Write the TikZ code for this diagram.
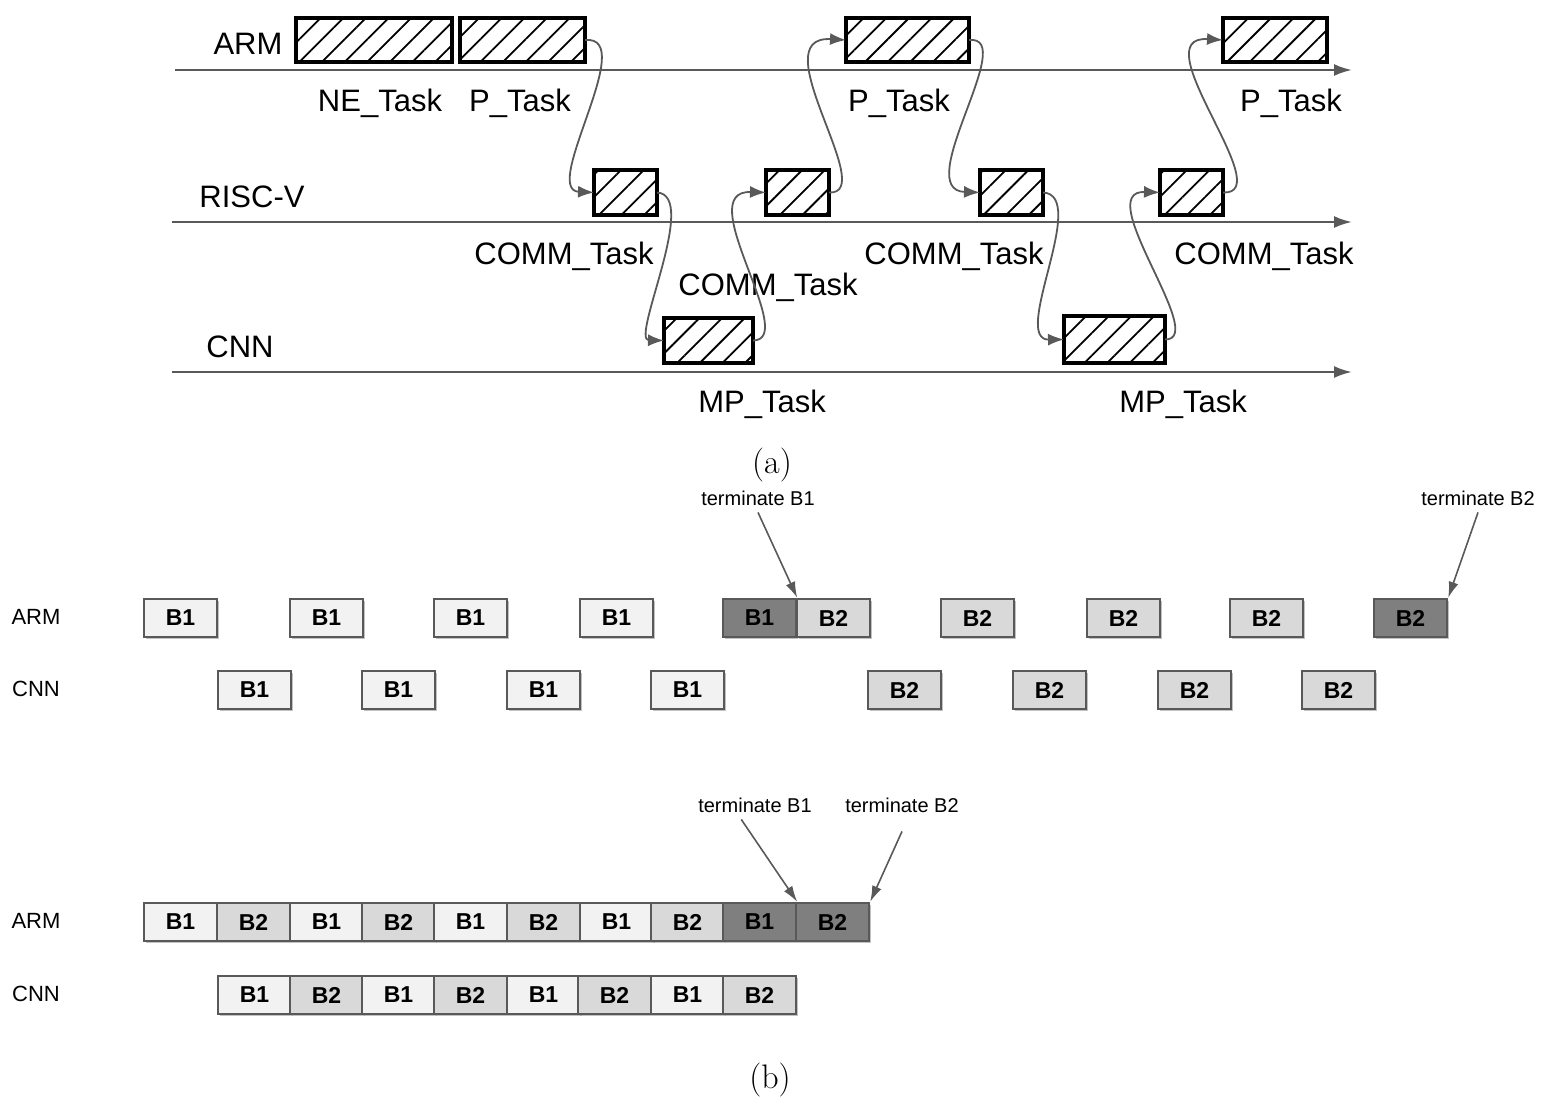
\documentclass[tikz,border=0pt]{standalone}
\usepackage{fontspec}
\setmainfont{Liberation Sans}
\newfontfamily\serifm{Latin Modern Roman}
\usetikzlibrary{patterns.meta,arrows.meta,shadows}
\definecolor{lg}{HTML}{F2F2F2}
\definecolor{mg}{HTML}{D9D9D9}
\definecolor{dg}{HTML}{7F7F7F}
\definecolor{ln}{HTML}{595959}
\tikzset{
 axis/.style={draw=ln,line width=1.2pt,-{Latex[length=9pt,width=6pt]}},
 hatch/.style={draw=black,line width=2.2pt,inner sep=0pt,pattern={Lines[angle=45,distance=8pt,line width=0.9pt]}},
 lab/.style={font=\fontsize{15.5}{17}\selectfont},
 flow/.style={draw=ln,line width=0.9pt,-{Latex[length=8pt,width=6pt]}},
 bx/.style={draw=ln,line width=1.2pt,minimum width=36.5pt,minimum height=19pt,inner sep=0pt,font=\bfseries\fontsize{11.5}{12}\selectfont,drop shadow={shadow xshift=1pt,shadow yshift=-1pt,fill=black!40,opacity=0.6}},
 w/.style={bx,fill=lg}, g/.style={bx,fill=mg}, d/.style={bx,fill=dg},
 rl/.style={font=\fontsize{11}{12}\selectfont},
 tl/.style={font=\fontsize{10}{12}\selectfont},
 tarr/.style={draw=ln,line width=0.8pt,-{Latex[length=8pt,width=5pt]}}
}
\newcommand{\hb}[5]{\path[hatch] (#2,#3) rectangle (#4,#5); \coordinate (#1w) at (#2,{(#3+#5)/2}); \coordinate (#1e) at (#4,{(#3+#5)/2});}
\begin{document}
\begin{tikzpicture}[x=0.5pt,y=-0.5pt]
\useasboundingbox (0,0) rectangle (1553,1108);
% axes
\coordinate (a1) at (175,70); \coordinate (a1e) at (1352,70);
\coordinate (a2) at (172,222); \coordinate (a2e) at (1352,222);
\coordinate (a3) at (172,372); \coordinate (a3e) at (1352,372);
\draw[axis] (a1) -- (a1e); \draw[axis] (a2) -- (a2e); \draw[axis] (a3) -- (a3e);
\node[lab] (tarm) at (248,44) {ARM};
\node[lab] (trv) at (252,197) {RISC-V};
\node[lab] (tcnn) at (240,347) {CNN};
\hb{ne}{296}{18}{452}{62}
\hb{p1}{460}{18}{585}{62}
\hb{p2}{846}{18}{969}{62}
\hb{p3}{1223}{18}{1327}{62}
\hb{r1}{594}{170}{657}{215}
\hb{r2}{766}{170}{829}{215}
\hb{r3}{980}{170}{1043}{215}
\hb{r4}{1160}{170}{1223}{215}
\hb{c1}{664}{318}{753}{363}
\hb{c2}{1064}{316}{1165}{363}
\node[lab] (l1) at (380,103) {NE\_Task};
\node[lab] (l2) at (520,103) {P\_Task};
\node[lab] (l3) at (899,103) {P\_Task};
\node[lab] (l4) at (1291,103) {P\_Task};
\node[lab] (l5) at (564,256) {COMM\_Task};
\node[lab] (l6) at (768,287) {COMM\_Task};
\node[lab] (l7) at (954,256) {COMM\_Task};
\node[lab] (l8) at (1264,256) {COMM\_Task};
\node[lab] (l9) at (762,404) {MP\_Task};
\node[lab] (l10) at (1183,404) {MP\_Task};
\draw[flow] (p1e) .. controls (640,35) and (540,190) .. (r1w);
\draw[flow] (r1e) .. controls (700,195) and (630,340) .. (c1w);
\draw[flow] (c1e) .. controls (800,340) and (690,190) .. (r2w);
\draw[flow] (r2e) .. controls (880,195) and (760,35) .. (p2w);
\draw[flow] (p2e) .. controls (1020,35) and (910,190) .. (r3w);
\draw[flow] (r3e) .. controls (1090,195) and (1010,340) .. (c2w);
\draw[flow] (c2e) .. controls (1210,340) and (1090,190) .. (r4w);
\draw[flow] (r4e) .. controls (1280,195) and (1140,35) .. (p3w);
\node[font=\serifm\fontsize{17}{19}\selectfont] (ca) at (772,465) {(a)};
% part b
\node[rl] (ra1) at (36,617) {ARM};
\node[rl] (rc1) at (36,689) {CNN};
\foreach \x/\s/\t [count=\i] in {144/w/B1,290/w/B1,434/w/B1,580/w/B1,723/d/B1,797/g/B2,941/g/B2,1087/g/B2,1230/g/B2,1374/d/B2}
  \node[\s] (ua\i) at (\x+36.5,618) {\t};
\foreach \x/\s/\t [count=\i] in {218/w/B1,362/w/B1,507/w/B1,651/w/B1,868/g/B2,1013/g/B2,1158/g/B2,1302/g/B2}
  \node[\s] (uc\i) at (\x+36.5,690) {\t};
\node[tl] (t1) at (758,498) {terminate B1};
\node[tl] (t2) at (1478,498) {terminate B2};
\draw[tarr] (t1.south) -- (ua5.north east);
\draw[tarr] (t2.south) -- (ua10.north east);
\node[rl] (ra2) at (36,921) {ARM};
\node[rl] (rc2) at (36,994) {CNN};
\foreach \x/\s/\t [count=\i] in {144/w/B1,217/g/B2,290/w/B1,362/g/B2,434/w/B1,507/g/B2,580/w/B1,651/g/B2,723/d/B1,796/d/B2}
  \node[\s] (la\i) at (\x+36.5,922) {\t};
\foreach \x/\s/\t [count=\i] in {218/w/B1,290/g/B2,362/w/B1,434/g/B2,507/w/B1,578/g/B2,651/w/B1,723/g/B2}
  \node[\s] (lc\i) at (\x+36.5,995) {\t};
\node[tl] (t3) at (755,805) {terminate B1};
\node[tl] (t4) at (902,805) {terminate B2};
\draw[tarr] (t3.south west)++(50,0) coordinate (t3s) (t3s) -- (la9.north east);
\draw[tarr] (t4.south) ++(0,12) coordinate (t4s) (t4s) -- (la10.north east);
\node[font=\serifm\fontsize{17}{19}\selectfont] (cb) at (770,1080) {(b)};
\end{tikzpicture}
\end{document}
